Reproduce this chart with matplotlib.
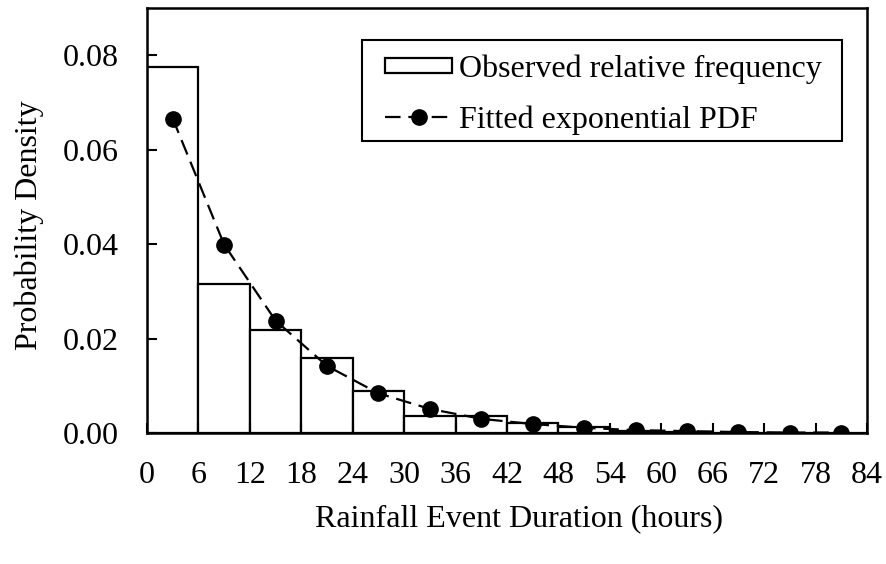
import matplotlib
matplotlib.use("Agg")
import matplotlib.pyplot as plt
import matplotlib.patches as mpatches
from matplotlib.legend_handler import HandlerPatch, HandlerLine2D
from matplotlib.transforms import IdentityTransform
import numpy as np

plt.rcParams['font.family'] = ['Liberation Serif', 'DejaVu Serif']
plt.rcParams['font.size'] = 23

# histogram bins (hours) and observed relative frequency per hour
bin_edges = [0, 6, 12, 18, 24, 30, 36, 42, 48, 54, 60, 66, 72, 78, 84]
observed = [0.0775, 0.0316, 0.0219, 0.0159, 0.0090, 0.0035, 0.0036,
            0.0021, 0.0012, 0.0005, 0.0003, 0.0001, 0.0001, 0.0001]

# fitted exponential pdf evaluated at bin midpoints
mid_hours = [3, 9, 15, 21, 27, 33, 39, 45, 51, 57, 63, 69, 75, 81]
fitted = [0.0666, 0.0399, 0.0238, 0.0142, 0.0084, 0.0051, 0.0030,
          0.0019, 0.0011, 0.0006, 0.0004, 0.0002, 0.0001, 0.0001]

x_ticks = list(range(0, 85, 6))
y_ticks = [0.00, 0.02, 0.04, 0.06, 0.08]

INSET = 12.0  # points of blank space before each legend key


def flat_box(legend, orig_handle, xdescent, ydescent, width, height, fontsize):
    h = 10.8
    return mpatches.Rectangle((-xdescent + INSET, -ydescent + (height - h) / 2),
                              width - INSET, h)


class InsetLine(HandlerLine2D):
    def get_xdata(self, legend, xdescent, ydescent, width, height, fontsize):
        x0 = -xdescent + INSET
        x1 = -xdescent + width
        return np.array([x0, x1]), np.array([(x0 + x1) / 2])


fig = plt.figure(figsize=(8.86, 5.64), dpi=100)
ax = fig.add_axes([147 / 886, 1 - 433 / 564, 720 / 886, 425 / 564])

widths = [bin_edges[i + 1] - bin_edges[i] for i in range(len(observed))]
bars = ax.bar(bin_edges[:-1], observed, width=widths, align='edge',
              facecolor='white', edgecolor='black', linewidth=1.6,
              label='Observed relative frequency')
line, = ax.plot(mid_hours, fitted, color='black', linestyle=(0, (7, 3.5)),
                linewidth=1.6, marker='o', markersize=11,
                label='Fitted exponential PDF')

ax.set_xlim(0, 84)
ax.set_ylim(0, 0.09)
ax.set_xticks(x_ticks)
ax.set_yticks(y_ticks)
ax.set_yticklabels(['%.2f' % v for v in y_ticks])
ax.tick_params(direction='in', length=7, width=1.5)
ax.tick_params(axis='x', pad=20)
ax.tick_params(axis='y', pad=20)
for sp in ax.spines.values():
    sp.set_linewidth(1.8)

ax.set_xlabel('Rainfall Event Duration (hours)')
ax.set_ylabel('Probability Density')
ax.xaxis.set_label_coords(0.517, -0.168)
ax.yaxis.set_label_coords(-0.143, 0.49)

bar_key = bars.patches[0]
leg = ax.legend([bar_key, line], [bars.get_label(), line.get_label()],
                loc='upper right', bbox_to_anchor=(0.9458, 0.906),
                frameon=False, handlelength=2.62, handletextpad=0.2,
                borderpad=0.2, labelspacing=0.67, borderaxespad=0,
                handler_map={mpatches.Rectangle: HandlerPatch(patch_func=flat_box),
                             type(line): InsetLine()})

# legend frame with extra room on the right and top
fig.canvas.draw()
bb = leg.get_window_extent(fig.canvas.get_renderer())
frame = mpatches.Rectangle((bb.x0, bb.y0), bb.width + 14, bb.height + 8,
                           transform=IdentityTransform(), fill=False,
                           edgecolor='black', linewidth=1.5, zorder=5)
fig.add_artist(frame)

fig.savefig('out.png', dpi=100)
